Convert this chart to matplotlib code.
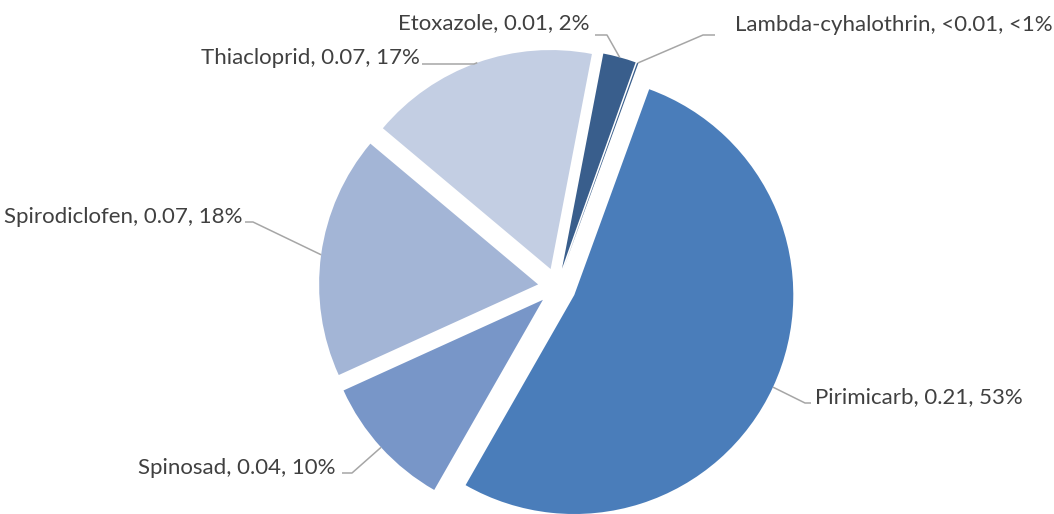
import numpy as np
import matplotlib
matplotlib.use("Agg")
import matplotlib.pyplot as plt

# data
names = ["Pirimicarb", "Spinosad", "Spirodiclofen", "Thiacloprid", "Etoxazole", "Lambda-cyhalothrin"]
values = [0.212, 0.040, 0.072, 0.068, 0.0098, 0.0004]
colors = ["#4a7dba", "#7896c8", "#a3b5d6", "#c3cee3", "#395e8c", "#395e8c"]


def fmt_val(v):
    return "<0.01" if v < 0.005 else f"{v:.2f}"


def fmt_pct(p):
    return "<1%" if p < 0.5 else f"{p:.0f}%"


total = sum(values)
labels = [f"{n}, {fmt_val(v)}, {fmt_pct(100 * v / total)}" for n, v in zip(names, values)]

# layout, in pixels of the 1054x514 picture
W, H = 1054, 514
CX, CY, R = 557, 287, 219


def px(x, y):
    return (x - CX) / R, (CY - y) / R


# (elbow, line end, text anchor, ha) per slice
label_layout = [
    ((805, 403), (811, 403), (815, 397), "left"),
    ((352, 473), (342, 473), (336, 468), "right"),
    ((253, 222), (245, 222), (243, 217), "right"),
    ((474, 64), (422, 64), (420, 58), "right"),
    ((607, 35), (595, 35), (589, 23), "right"),
    ((703, 35), (715, 35), (735, 25), "left"),
]

plt.rcParams["font.family"] = ["Lato", "DejaVu Sans"]

fig = plt.figure(figsize=(W / 100, H / 100), dpi=100)
ax = fig.add_axes([0, 0, 1, 1])

wedges, _ = ax.pie(
    values,
    colors=colors,
    startangle=70,
    counterclock=False,
    explode=[0.087] * len(values),
    radius=1,
    wedgeprops=dict(linewidth=0),
)

for w, lab, (elbow, end, txt, ha) in zip(wedges, labels, label_layout):
    mid = np.deg2rad((w.theta1 + w.theta2) / 2)
    ax_ = w.center[0] + w.r * np.cos(mid)
    ay_ = w.center[1] + w.r * np.sin(mid)
    ex, ey = px(*elbow)
    lx, ly = px(*end)
    ax.plot([ax_, ex, lx], [ay_, ey, ly], color="#a6a6a6", lw=1.1, solid_capstyle="butt")
    tx, ty = px(*txt)
    ax.text(tx, ty, lab, ha=ha, va="center", fontsize=16, color="#404040")

ax.set_xlim(-CX / R, (W - CX) / R)
ax.set_ylim((CY - H) / R, CY / R)
ax.set_aspect("auto")
ax.axis("off")

fig.savefig("out.png", dpi=100, facecolor="white")
